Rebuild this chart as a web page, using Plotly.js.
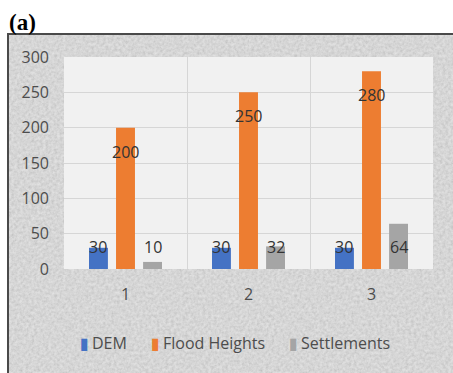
<!DOCTYPE html>
<html>
<head>
<meta charset="utf-8">
<script src="https://cdn.plot.ly/plotly-3.0.1.min.js"></script>
<style>
  html, body { margin: 0; padding: 0; background: #ffffff; width: 453px; height: 373px; overflow: hidden; }
  #frame {
    position: absolute; left: 7px; top: 33px; width: 470px; height: 370px;
    border-top: 2px solid #4a4a4a; border-left: 2px solid #4a4a4a;
    background-color: #dedede;
    background-image: url("data:image/svg+xml,%3Csvg xmlns='http://www.w3.org/2000/svg' width='240' height='240'%3E%3Cfilter id='n'%3E%3CfeTurbulence type='fractalNoise' baseFrequency='0.35' numOctaves='4' stitchTiles='stitch'/%3E%3CfeColorMatrix type='matrix' values='0.7 0 0 0 0.2  0.7 0 0 0 0.2  0.7 0 0 0 0.2  0 0 0 0 1'/%3E%3C/filter%3E%3Crect width='100%25' height='100%25' filter='url(%23n)' opacity='0.35'/%3E%3C/svg%3E");
  }
  #chart { position: absolute; left: 0; top: 0; width: 453px; height: 373px; }
</style>
</head>
<body>
<div id="frame"></div>
<div id="chart"></div>
<script>
// Values per group
const categories = [1, 2, 3];
const demValues = [30, 30, 30];
const floodValues = [200, 250, 280];
const settlementValues = [10, 32, 64];
const seriesNames = ['DEM', 'Flood Heights', 'Settlements'];
const seriesColors = ['#4472C4', '#ED7D31', '#A5A5A5'];
const yTickValues = [0, 50, 100, 150, 200, 250, 300];
const xTickLabels = ['1', '2', '3'];

const BARGAP = 0.34;
const PLOT_LEFT = 64, PLOT_WIDTH = 369.5;
const labelFont = { family: 'Open Sans, Noto Sans, sans-serif', size: 16, color: '#333333' };
const axisFont = { family: 'Open Sans, Noto Sans, sans-serif', size: 16, color: '#4d4d4d' };

const seriesValues = [demValues, floodValues, settlementValues];

const traces = seriesValues.map((vals, i) => ({
  type: 'bar',
  name: seriesNames[i],
  x: categories,
  y: vals,
  marker: { color: seriesColors[i], line: { width: 0 } },
  hoverinfo: 'skip',
  showlegend: false
}));

// Value labels: DEM and Settlements sit on a row just above the base,
// Flood Heights labels sit a little below the bar top.
const slot = (1 - BARGAP) / seriesValues.length;
const annotations = [];
seriesValues.forEach((vals, i) => {
  vals.forEach((v, j) => {
    const isFlood = i === 1;
    annotations.push({
      x: categories[j] + (i - 1) * slot,
      y: isFlood ? v : 0,
      yshift: isFlood ? -24 : 22,
      xref: 'x', yref: 'y',
      text: String(v),
      showarrow: false,
      xanchor: 'center', yanchor: 'middle',
      font: labelFont
    });
  });
});

// Legend row below the axis: a coloured swatch glyph followed by the series name
const legendLeftPx = [78, 149, 287];
seriesNames.forEach((name, i) => {
  annotations.push({
    xref: 'paper', yref: 'paper',
    x: (legendLeftPx[i] - PLOT_LEFT) / PLOT_WIDTH, y: -0.35,
    xanchor: 'left', yanchor: 'middle',
    showarrow: false,
    text: '<span style="color:' + seriesColors[i] + ';font-family:DejaVu Sans;font-size:16px">\u25AE\u2009</span>' + name,
    font: axisFont
  });
});

annotations.push({
  xref: 'paper', yref: 'paper', x: 0, y: 1,
  xshift: -57, yshift: 35,
  xanchor: 'left', yanchor: 'middle',
  text: '<b>(a)</b>', showarrow: false,
  font: { family: 'Liberation Serif, Times New Roman, serif', size: 23, color: '#000000' }
});

const layout = {
  width: 453, height: 373,
  margin: { l: PLOT_LEFT, r: 453 - PLOT_LEFT - PLOT_WIDTH, t: 57, b: 103.5, pad: 0 },
  paper_bgcolor: 'rgba(0,0,0,0)',
  plot_bgcolor: '#f1f1f1',
  barmode: 'group',
  bargap: BARGAP,
  bargroupgap: 0.3,
  showlegend: false,
  xaxis: {
    type: 'linear', range: [0.5, 3.5],
    tickmode: 'array', tickvals: categories, ticktext: xTickLabels,
    showgrid: false, zeroline: false, showline: false, ticks: '',
    ticklabelstandoff: 14, tickfont: axisFont,
    minor: { tickmode: 'linear', tick0: 0.5, dtick: 1, showgrid: true, gridcolor: '#d6d6d6', gridwidth: 1, ticks: '' }
  },
  yaxis: {
    range: [0, 300], tickmode: 'array', tickvals: yTickValues,
    showgrid: true, gridcolor: '#d6d6d6', gridwidth: 1,
    zeroline: false, showline: false, ticks: '',
    ticklabelstandoff: 14, tickfont: axisFont
  },
  annotations: annotations
};

Plotly.newPlot('chart', traces, layout, { staticPlot: true, displayModeBar: false });
</script>
</body>
</html>
